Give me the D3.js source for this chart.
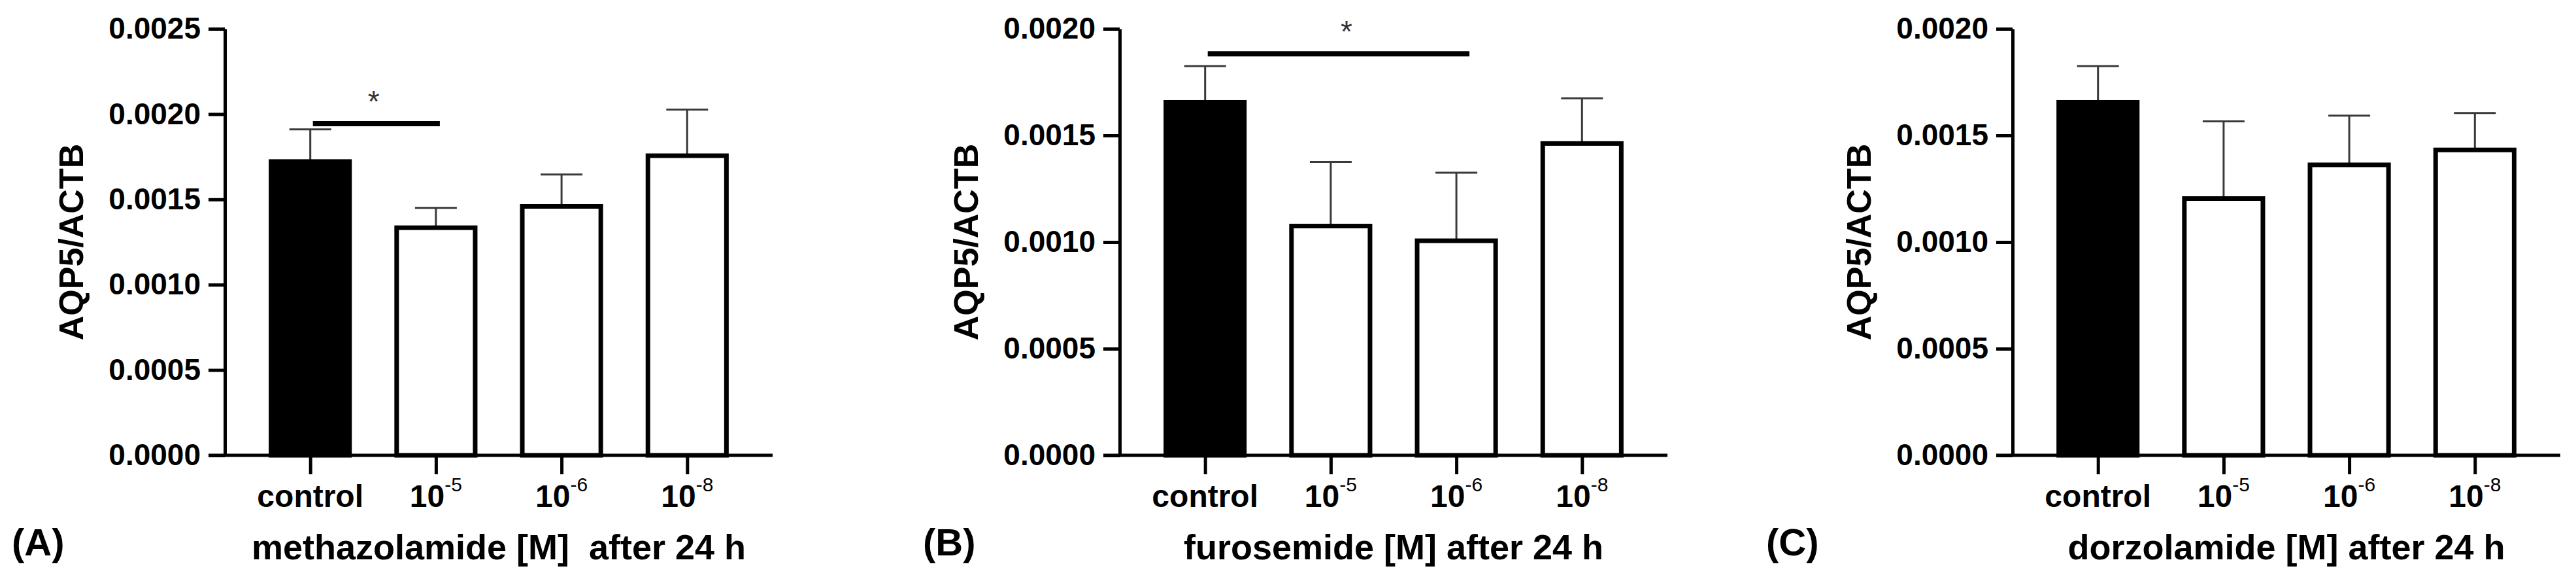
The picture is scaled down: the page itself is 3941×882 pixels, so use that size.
<!DOCTYPE html>
<html>
<head>
<meta charset="utf-8">
<script src="https://cdn.jsdelivr.net/npm/d3@7"></script>
<style>
body { margin: 0; background: #fff; }
svg text { font-family: "Liberation Sans", Arial, sans-serif; }
</style>
</head>
<body>
<script>
const width = 3941,
      height = 882;

// x categories (base + superscript exponent)
const doses = ["control", "10-5", "10-6", "10-8"];
const doseBase = ["control", "10", "10", "10"];
const doseExp = ["", "-5", "-6", "-8"];

// (A) methazolamide
const methMean = [0.001722, 0.001334, 0.001459, 0.001756];
const methSem  = [0.000188, 0.000116, 0.000187, 0.000270];

// (B) furosemide
const furoMean = [0.001655, 0.001075, 0.001006, 0.001462];
const furoSem  = [0.000170, 0.000301, 0.000319, 0.000212];

// (C) dorzolamide
const dorzMean = [0.001655, 0.001204, 0.001362, 0.001432];
const dorzSem  = [0.000170, 0.000362, 0.000231, 0.000173];

const yTicksA = [0, 0.0005, 0.0010, 0.0015, 0.0020, 0.0025];
const yTicksBC = [0, 0.0005, 0.0010, 0.0015, 0.0020];

// significance brackets
const sigA = {from: "control", to: "10-5", value: 0.001944, label: "*"};
const sigB = {from: "control", to: "10-6", value: 0.001883, label: "*"};

const yTitle = "AQP5/ACTB";

const plotTop = 44, plotBottom = 696, axisLen = 838;

const panels = [
    {letter: "(A)", letterX: 18, x0: 344, title: "methazolamide [M]  after 24 h",
     mean: methMean, sem: methSem, ticks: yTicksA, sig: sigA, sigExt: 6, starShift: -4},
    {letter: "(B)", letterX: 1412, x0: 1713, title: "furosemide [M] after 24 h",
     mean: furoMean, sem: furoSem, ticks: yTicksBC, sig: sigB, sigExt: 20, starShift: 12},
    {letter: "(C)", letterX: 2702, x0: 3079, title: "dorzolamide [M] after 24 h",
     mean: dorzMean, sem: dorzSem, ticks: yTicksBC, sig: null}
];

let svg = d3.select("body")
    .append("svg")
    .attr("width", width)
    .attr("height", height);

svg.append("rect")
    .attr("width", width)
    .attr("height", height)
    .attr("fill", "#fff");

function drawPanel(p) {
    let g = svg.append("g");

    let x = d3.scalePoint()
        .domain(doses)
        .range([p.x0, p.x0 + axisLen])
        .padding(0.68);
    let y = d3.scaleLinear()
        .domain([0, d3.max(p.ticks)])
        .range([plotBottom, plotTop]);

    let barW = x.step() * 0.625;
    let rows = doses.map(function (d, i) {
        return {dose: d, mean: p.mean[i], sem: p.sem[i], i: i};
    });

    // error bars (upper only), drawn under the bars
    let err = g.append("g")
        .attr("stroke", "#3a3a3a")
        .attr("stroke-width", 3);
    err.selectAll(".stem")
        .data(rows)
        .enter().append("line")
        .attr("x1", function (d) {return x(d.dose);})
        .attr("x2", function (d) {return x(d.dose);})
        .attr("y1", function (d) {return y(d.mean);})
        .attr("y2", function (d) {return y(d.mean + d.sem);});
    err.selectAll(".cap")
        .data(rows)
        .enter().append("line")
        .attr("x1", function (d) {return x(d.dose) - 32;})
        .attr("x2", function (d) {return x(d.dose) + 32;})
        .attr("y1", function (d) {return y(d.mean + d.sem);})
        .attr("y2", function (d) {return y(d.mean + d.sem);});

    g.selectAll(".bar")
        .data(rows)
        .enter().append("rect")
        .attr("class", "bar")
        .attr("x", function (d) {return x(d.dose) - barW / 2;})
        .attr("y", function (d) {return y(d.mean);})
        .attr("width", barW)
        .attr("height", function (d) {return plotBottom - y(d.mean);})
        .attr("fill", function (d) {return d.i === 0 ? "#000" : "#fff";})
        .attr("stroke", "#000")
        .attr("stroke-width", 7);

    // y axis
    let yAxis = d3.axisLeft(y)
        .tickValues(p.ticks)
        .tickFormat(d3.format(".4f"))
        .tickSize(25)
        .tickSizeOuter(0)
        .tickPadding(12);
    let ya = g.append("g")
        .attr("transform", "translate(" + p.x0 + ",0)")
        .call(yAxis);
    ya.select(".domain").attr("stroke-width", 5);
    ya.selectAll(".tick line").attr("stroke-width", 5);
    ya.selectAll(".tick text")
        .attr("font-size", 46)
        .attr("font-weight", "bold")
        .attr("fill", "#000")
        .style("font-family", "'Liberation Sans', Arial, sans-serif");

    // x axis
    let xAxis = d3.axisBottom(x)
        .tickSize(29)
        .tickSizeOuter(0)
        .tickFormat("");
    let xa = g.append("g")
        .attr("transform", "translate(0," + plotBottom + ")")
        .call(xAxis);
    xa.select(".domain")
        .attr("stroke-width", 5)
        .attr("d", "M" + (p.x0 - 25) + ",0H" + (p.x0 + axisLen));
    xa.selectAll(".tick line").attr("stroke-width", 5);

    let lab = g.selectAll(".xlab")
        .data(rows)
        .enter().append("text")
        .attr("class", "xlab")
        .attr("x", function (d) {return x(d.dose);})
        .attr("y", 775)
        .attr("text-anchor", "middle")
        .attr("font-size", 48)
        .attr("font-weight", "bold");
    lab.append("tspan").text(function (d) {return doseBase[d.i];});
    lab.filter(function (d) {return doseExp[d.i] !== "";})
        .append("tspan")
        .attr("font-size", 30)
        .attr("font-weight", "normal")
        .attr("dy", -24)
        .text(function (d) {return doseExp[d.i];});

    // axis titles
    g.append("text")
        .attr("text-anchor", "middle")
        .attr("transform", "translate(" + (p.x0 - 236) + "," + ((plotTop + plotBottom) / 2) + ")rotate(-90)")
        .attr("dy", "0.36em")
        .attr("font-size", 52)
        .attr("font-weight", "bold")
        .text(yTitle);

    g.append("text")
        .attr("x", p.x0 + axisLen / 2)
        .attr("y", 855)
        .attr("text-anchor", "middle")
        .attr("font-size", 54)
        .attr("font-weight", "bold")
        .style("white-space", "pre")
        .text(p.title);

    g.append("text")
        .attr("x", p.letterX)
        .attr("y", 849)
        .attr("font-size", 58)
        .attr("font-weight", "bold")
        .text(p.letter);

    // significance bar
    if (p.sig) {
        let x1 = x(p.sig.from) + 4,
            x2 = x(p.sig.to) + p.sigExt;
        g.append("line")
            .attr("x1", x1)
            .attr("x2", x2)
            .attr("y1", y(p.sig.value))
            .attr("y2", y(p.sig.value))
            .attr("stroke", "#000")
            .attr("stroke-width", 8);
        g.append("text")
            .attr("x", (x1 + x2) / 2 + p.starShift)
            .attr("y", y(p.sig.value) - 18)
            .attr("text-anchor", "middle")
            .attr("font-size", 46)
            .attr("fill", "#333")
            .text(p.sig.label);
    }
}

panels.forEach(drawPanel);
</script>
</body>
</html>
